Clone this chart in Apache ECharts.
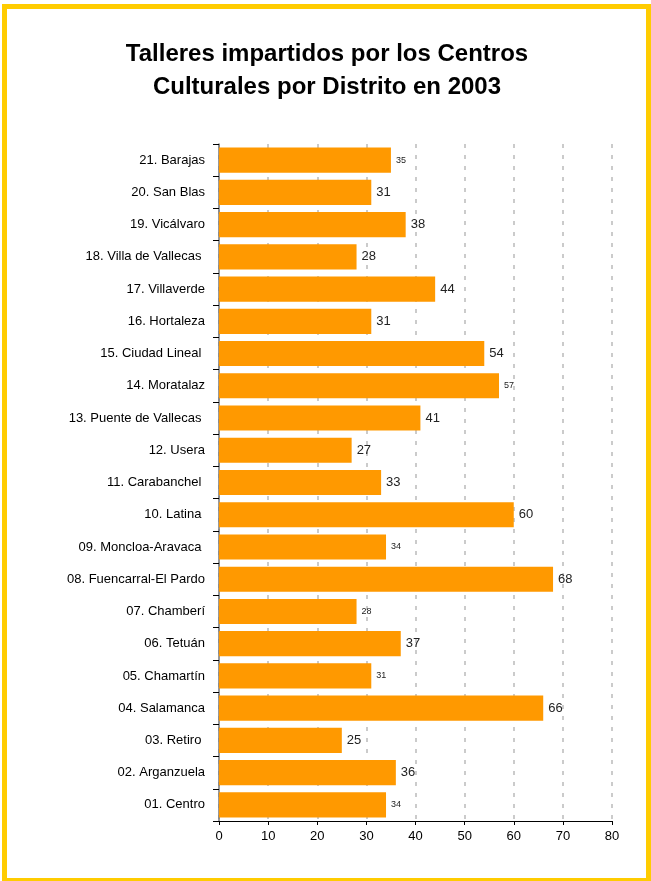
<!DOCTYPE html>
<html><head><meta charset="utf-8">
<script src="https://cdn.jsdelivr.net/npm/echarts@6/dist/echarts.min.js"></script>
<style>
html,body{margin:0;padding:0;background:#fff;}
#frame{position:absolute;left:2px;top:4px;width:639px;height:869px;border:5px solid #FFCC00;border-bottom-width:3px;}
#c{position:absolute;left:0;top:0;width:651px;height:881px;}
</style></head>
<body>
<div id="frame"></div>
<div id="c"></div>
<script>
const titleLines = ['Talleres impartidos por los Centros','Culturales por Distrito en 2003'];
const categories = ["01. Centro","02. Arganzuela","03. Retiro ","04. Salamanca","05. Chamartín","06. Tetuán","07. Chamberí","08. Fuencarral-El Pardo","09. Moncloa-Aravaca ","10. Latina ","11. Carabanchel ","12. Usera","13. Puente de Vallecas ","14. Moratalaz","15. Ciudad Lineal ","16. Hortaleza","17. Villaverde","18. Villa de Vallecas ","19. Vicálvaro","20. San Blas","21. Barajas"];
const values = [34,36,25,66,31,37,28,68,34,60,33,27,41,57,54,31,44,28,38,31,35];
const smallLabel = [true,false,false,false,true,false,true,false,true,false,false,false,false,true,false,false,false,false,false,false,true];
const xTicks = [0,10,20,30,40,50,60,70,80];

const chart = echarts.init(document.getElementById('c'));
chart.setOption({
  animation:false,
  graphic:titleLines.map((t,i)=>({type:'text',x:327,y:54.5+i*32.5,
    style:{text:t,fontFamily:'Liberation Sans',fontSize:24,fontWeight:'bold',fill:'#000',align:'center',verticalAlign:'middle'}})),
  grid:{left:219,right:39,top:144,bottom:60},
  xAxis:{type:'value',min:0,max:80,interval:10,
    axisLine:{show:true,lineStyle:{color:'#000',width:1}},
    axisTick:{show:true,length:4,lineStyle:{color:'#000'}},
    axisLabel:{fontFamily:'Liberation Sans',fontSize:13,color:'#000',margin:9,formatter:v=>xTicks.includes(v)?String(v):''},
    splitLine:{show:true,lineStyle:{color:'#bbb',type:[4,7],width:1.5}}},
  yAxis:{type:'category',data:categories,
    axisLine:{show:true,lineStyle:{color:'#777',width:1.5}},
    axisTick:{show:true,length:6,lineStyle:{color:'#000'}},
    axisLabel:{fontFamily:'Liberation Sans',fontSize:13,color:'#000',margin:14}},
  series:[{type:'bar',barCategoryGap:'22%',
    itemStyle:{color:'#FF9900'},
    data:values.map((v,i)=>({value:v,label:{fontSize:smallLabel[i]?9:13}})),
    label:{show:true,position:'right',distance:5,fontFamily:'Liberation Sans',color:'#222'}}]
});
</script>
</body></html>
